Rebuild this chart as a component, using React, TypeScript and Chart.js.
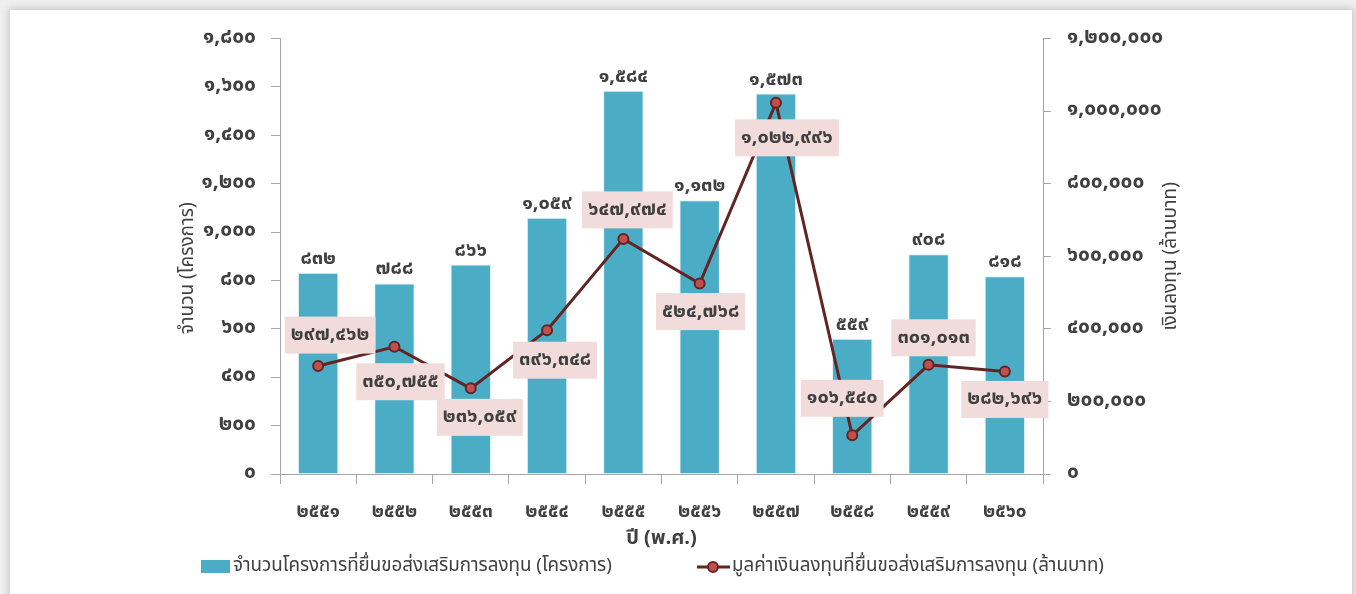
import React, { useEffect, useRef } from 'react';
import { Chart, registerables } from 'chart.js';

Chart.register(...registerables);

// ---------- data ----------
const years = ['๒๕๕๑', '๒๕๕๒', '๒๕๕๓', '๒๕๕๔', '๒๕๕๕', '๒๕๕๖', '๒๕๕๗', '๒๕๕๘', '๒๕๕๙', '๒๕๖๐'];
const projectCounts = [832, 788, 866, 1059, 1584, 1132, 1573, 559, 908, 818];
const investmentValues = [297462, 350755, 236059, 396348, 647974, 524768, 1022996, 106540, 301013, 282696];
const leftTickLabels = ['๐', '๒๐๐', '๔๐๐', '๖๐๐', '๘๐๐', '๑,๐๐๐', '๑,๒๐๐', '๑,๔๐๐', '๑,๖๐๐', '๑,๘๐๐'];
const rightTickLabels = ['๐', '๒๐๐,๐๐๐', '๔๐๐,๐๐๐', '๖๐๐,๐๐๐', '๘๐๐,๐๐๐', '๑,๐๐๐,๐๐๐', '๑,๒๐๐,๐๐๐'];

const barLegend = 'จำนวนโครงการที่ยื่นขอส่งเสริมการลงทุน (โครงการ)';
const lineLegend = 'มูลค่าเงินลงทุนที่ยื่นขอส่งเสริมการลงทุน (ล้านบาท)';
const leftTitle = 'จำนวน (โครงการ)';
const rightTitle = 'เงินลงทุน (ล้านบาท)';
const xTitle = 'ปี (พ.ศ.)';

// placement of the value boxes relative to each point (layout only)
const labelOffsets: [number, number][] = [
  [12, -31], [6, 35], [9, 29], [8, 30], [4, -29], [1, 28], [11, 35], [-10, -37], [5, -27], [0, 28],
];

const FONT = "Tahoma, 'Leelawadee UI', 'Noto Sans Thai', 'Noto Sans', sans-serif";
const TEXT = '#404040';
const AXIS = '#A6A6A6';
const BAR = '#4BACC6';
const LINE = '#632523';
const POINT = '#C0504D';
const BOX = '#F2DCDB';

const THAI_DIGITS = '๐๑๒๓๔๕๖๗๘๙';
const toThai = (n: number) => n.toLocaleString('en-US').replace(/\d/g, (d) => THAI_DIGITS[+d]);

const annotPlugin = {
  id: 'annot',
  afterDatasetsDraw(chart: any) {
    const ctx = chart.ctx as CanvasRenderingContext2D;
    const barMeta = chart.getDatasetMeta(0);
    const lineMeta = chart.getDatasetMeta(1);
    ctx.save();
    ctx.font = `bold 20px ${FONT}`;
    ctx.fillStyle = TEXT;
    ctx.textAlign = 'center';
    ctx.textBaseline = 'middle';
    barMeta.data.forEach((el: any, i: number) => {
      ctx.fillText(toThai(projectCounts[i]), el.x, el.y - 13);
    });
    lineMeta.data.forEach((el: any, i: number) => {
      const [dx, dy] = labelOffsets[i];
      const txt = toThai(investmentValues[i]);
      const w = ctx.measureText(txt).width + 12;
      const h = 37;
      const cx = el.x + dx;
      const cy = el.y + dy;
      ctx.fillStyle = BOX;
      ctx.fillRect(cx - w / 2, cy - h / 2, w, h);
      ctx.fillStyle = TEXT;
      ctx.fillText(txt, cx, cy + 1);
    });
    ctx.restore();
  },
  afterDraw(chart: any) {
    const ctx = chart.ctx as CanvasRenderingContext2D;
    const a = chart.chartArea;
    ctx.save();
    ctx.fillStyle = TEXT;
    ctx.textAlign = 'center';
    ctx.textBaseline = 'middle';
    // axis titles
    ctx.font = `19px ${FONT}`;
    ctx.save();
    ctx.translate(a.left - 91, (a.top + a.bottom) / 2 + 12);
    ctx.rotate(-Math.PI / 2);
    ctx.fillText(leftTitle, 0, 0);
    ctx.restore();
    ctx.save();
    ctx.translate(a.right + 129, (a.top + a.bottom) / 2);
    ctx.rotate(-Math.PI / 2);
    ctx.fillText(rightTitle, 0, 0);
    ctx.restore();
    ctx.font = `bold 20px ${FONT}`;
    ctx.fillText(xTitle, (a.left + a.right) / 2, a.bottom + 66);
    // legend
    const ly = a.bottom + 93;
    ctx.font = `18.75px ${FONT}`;
    ctx.textAlign = 'left';
    ctx.fillStyle = BAR;
    ctx.fillRect(a.left - 79, ly - 7, 29, 13);
    ctx.fillStyle = TEXT;
    ctx.fillText(barLegend, a.left - 47, ly);
    const lx = a.left + 417;
    ctx.strokeStyle = LINE;
    ctx.lineWidth = 3;
    ctx.beginPath();
    ctx.moveTo(lx, ly);
    ctx.lineTo(lx + 33, ly);
    ctx.stroke();
    ctx.beginPath();
    ctx.arc(lx + 16, ly, 5, 0, Math.PI * 2);
    ctx.fillStyle = POINT;
    ctx.fill();
    ctx.lineWidth = 2;
    ctx.stroke();
    ctx.fillStyle = TEXT;
    ctx.fillText(lineLegend, lx + 35, ly);
    ctx.restore();
  },
};

export default function App() {
  const ref = useRef<HTMLCanvasElement | null>(null);
  useEffect(() => {
    if (!ref.current) return;
    const yTickFont = { family: FONT, size: 21, weight: 'bold' as const };
    const xTickFont = { family: FONT, size: 19, weight: 'bold' as const };
    const chart = new Chart(ref.current, {
      type: 'bar',
      data: {
        labels: years,
        datasets: [
          {
            type: 'bar',
            label: barLegend,
            data: projectCounts,
            backgroundColor: BAR,
            borderColor: 'rgba(220,238,244,0.9)',
            borderWidth: 1,
            barPercentage: 0.53,
            categoryPercentage: 1,
            yAxisID: 'y',
            order: 2,
          },
          {
            type: 'line',
            label: lineLegend,
            data: investmentValues,
            borderColor: LINE,
            borderWidth: 3,
            pointRadius: 5,
            pointBackgroundColor: POINT,
            pointBorderColor: LINE,
            pointBorderWidth: 2,
            tension: 0,
            yAxisID: 'y1',
            order: 1,
          },
        ],
      },
      options: {
        animation: false,
        responsive: false,
        layout: { padding: { top: 27, left: 0, right: 0, bottom: 0 } },
        plugins: { legend: { display: false }, tooltip: { enabled: false } },
        scales: {
          x: {
            grid: { drawOnChartArea: false, offset: true, tickLength: 10, color: AXIS },
            border: { color: AXIS },
            ticks: { color: TEXT, font: xTickFont, padding: 18 },
            afterFit: (s: any) => { s.height = 120; },
          },
          y: {
            position: 'left',
            min: 0,
            max: 1800,
            grid: { drawOnChartArea: false, tickLength: 9, color: AXIS },
            border: { color: AXIS },
            ticks: {
              stepSize: 200,
              autoSkip: false,
              color: TEXT,
              font: yTickFont,
              padding: 15,
              callback: (_v: any, i: number) => leftTickLabels[i],
            },
            afterFit: (s: any) => { s.width = 270; },
          },
          y1: {
            position: 'right',
            min: 0,
            max: 1200000,
            grid: { drawOnChartArea: false, tickLength: 8, color: AXIS },
            border: { color: AXIS },
            ticks: {
              stepSize: 200000,
              autoSkip: false,
              color: TEXT,
              font: yTickFont,
              padding: 16,
              callback: (_v: any, i: number) => rightTickLabels[i],
            },
            afterFit: (s: any) => { s.width = 309; },
          },
        },
      },
      plugins: [annotPlugin],
    } as any);
    return () => chart.destroy();
  }, []);

  return (
    <div style={{ position: 'fixed', left: 0, top: 0, width: 1356, height: 594, overflow: 'hidden', background: '#efefef' }}>
      <div
        style={{
          position: 'absolute',
          left: 10,
          top: 10,
          width: 1342,
          height: 620,
          background: '#ffffff',
          boxShadow: '0 0 7px 2px rgba(0,0,0,0.16)',
        }}
      >
        <canvas ref={ref} width={1342} height={584} style={{ display: 'block', width: 1342, height: 584 }} />
      </div>
    </div>
  );
}
